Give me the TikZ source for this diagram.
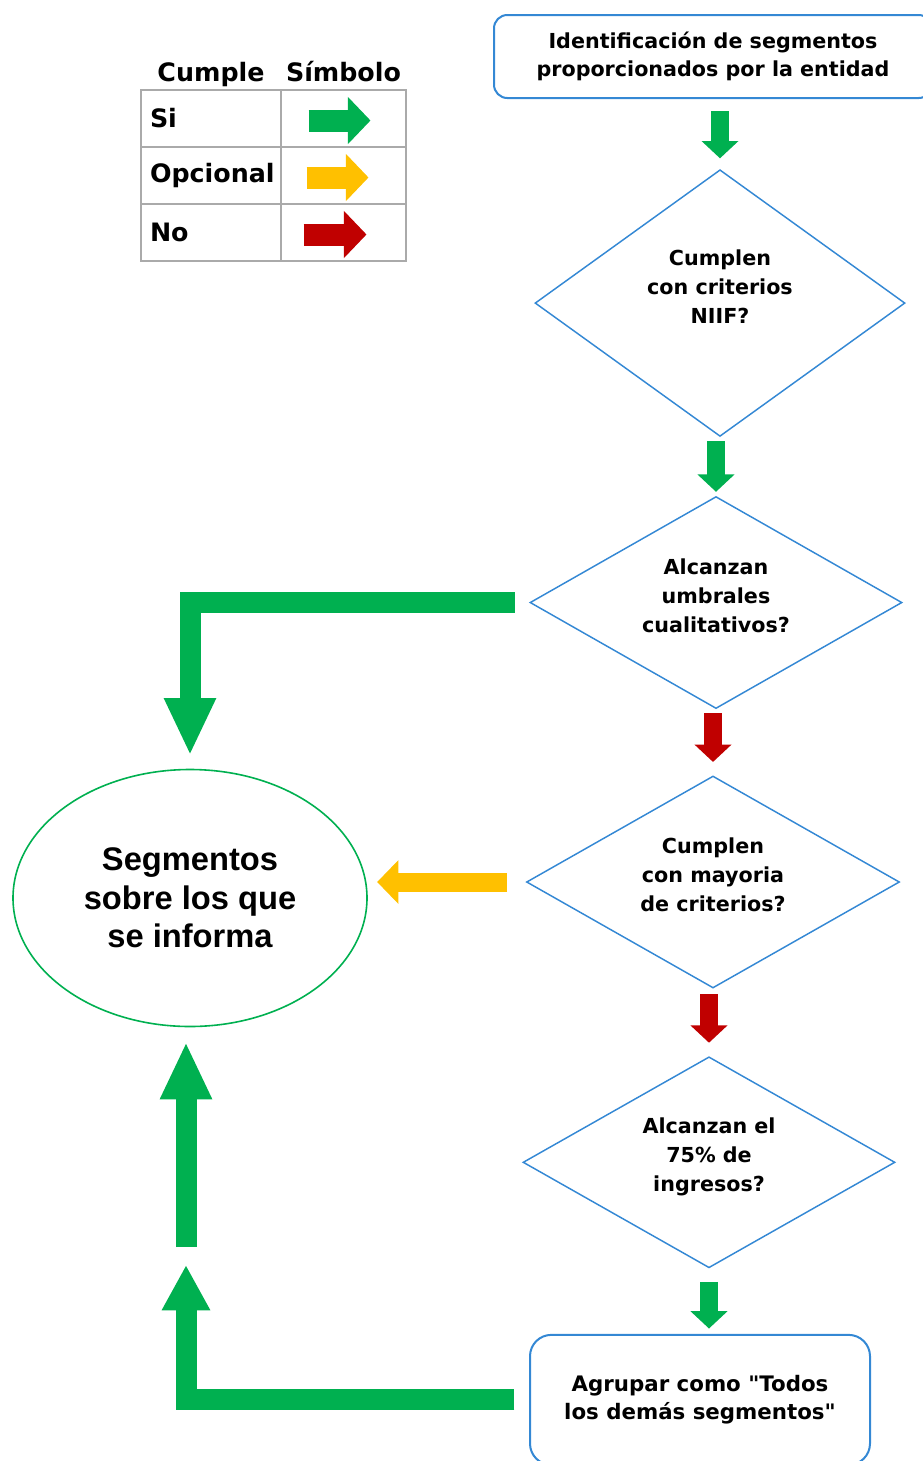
\documentclass[tikz,border=0pt]{standalone}
\usepackage{fontspec}
\setmainfont{Liberation Sans}
\newfontfamily\tahomafont{DejaVu Sans}
\usetikzlibrary{arrows.meta, positioning, shapes.geometric}

\definecolor{siverde}{RGB}{0,176,80}
\definecolor{opamarillo}{RGB}{255,192,0}
\definecolor{norojo}{RGB}{192,0,0}
\definecolor{bordeazul}{RGB}{52,136,212}
\definecolor{rejilla}{RGB}{170,170,170}

\begin{document}
\begin{tikzpicture}[
			x=0.75pt, y=-0.75pt,
			box/.style={
				draw=bordeazul,
				line width=1.5pt,
				rectangle,
				rounded corners=10pt,
				align=center,
				font=\tahomafont\bfseries\fontsize{15.5}{21}\selectfont
			},
			decision/.style={
				draw=bordeazul,
				line width=1.1pt,
				diamond,
				aspect=1.75,
				inner sep=0pt,
				align=center,
				font=\tahomafont\bfseries\fontsize{15.5}{21.75}\selectfont
			},
			outcome/.style={
				draw=siverde,
				line width=1.2pt,
				ellipse,
				minimum width=265.5pt,
				minimum height=192.75pt,
				align=center,
				font=\bfseries\fontsize{24.5}{29}\selectfont
			},
			cell/.style={
				draw=rejilla,
				line width=1.5pt,
				outer sep=0pt,
				minimum height=42.75pt,
				font=\tahomafont\bfseries\fontsize{19}{23}\selectfont
			},
			labelcell/.style={cell, minimum width=105pt, text width=91.5pt, inner xsep=6.75pt, align=left},
			symbolcell/.style={cell, minimum width=93.75pt},
			header/.style={inner ysep=0pt, text depth=6pt, font=\tahomafont\bfseries\fontsize{19}{23}\selectfont},
			smallarrow/.style={line width=14pt, -{Triangle[width=27pt,length=13pt]}},
			legendarrow/.style={line width=16.5pt, -{Triangle[width=34.5pt,length=17pt]}},
			goarrow/.style={siverde, line width=15.75pt, line join=miter, -{Triangle[width=36pt,length=43pt]}},
			optarrow/.style={opamarillo, line width=14.25pt, -{Triangle[width=32pt,length=16pt]}}
			]
			
			\useasboundingbox (0,0) rectangle (923,1461);
			
			% leyenda
			\node[labelcell] (si) at (211,118.5) {Si};
			\node[symbolcell, right=0pt of si] (simsi) {};
			\node[labelcell, below=0pt of si] (opc) {Opcional};
			\node[symbolcell, right=0pt of opc] (simopc) {};
			\node[labelcell, below=0pt of opc] (no) {No};
			\node[symbolcell, right=0pt of no] (simno) {};
			\node[header, above=0pt of si] (hcumple) {Cumple};
			\node[header, above=0pt of simsi] (hsimbolo) {Símbolo};
			
			\draw[legendarrow, siverde] ([shift={(-35,2)}]simsi.center) -- ([shift={(27,2)}]simsi.center);
			\draw[legendarrow, opamarillo] ([shift={(-37,2)}]simopc.center) -- ([shift={(25,2)}]simopc.center);
			\draw[legendarrow, norojo] ([shift={(-40,2)}]simno.center) -- ([shift={(23,2)}]simno.center);
			
			% flujo
			\node[box, minimum width=328.5pt, minimum height=62.25pt] (ident) at (713,56.5) {Identificación de segmentos\\proporcionados por la entidad};
			\node[decision, minimum width=277.5pt, minimum height=200pt, text depth=25pt, below=52.5pt of ident, xshift=5.25pt] (niif) {Cumplen\\con criterios\\NIIF?};
			\node[decision, minimum width=279pt, minimum height=159pt, text depth=11pt, below=44pt of niif, xshift=-3pt] (umbral) {Alcanzan\\umbrales\\cualitativos?};
			\node[decision, minimum width=279.75pt, minimum height=159pt, text depth=11pt, below=49.5pt of umbral, xshift=-2.25pt] (mayoria) {Cumplen\\con mayoria\\de criterios?};
			\node[decision, minimum width=279pt, minimum height=158.25pt, text depth=11pt, below=50.5pt of mayoria, xshift=-3pt] (ingresos) {Alcanzan el\\75\% de\\ingresos?};
			\node[box, rounded corners=16pt, minimum width=255pt, minimum height=97.5pt, below=49pt of ingresos, xshift=-6.75pt, font=\tahomafont\bfseries\fontsize{16}{21}\selectfont] (agrupar) {Agrupar como "Todos\\los demás segmentos"};
			\node[outcome] (informa) at (190,898) {Segmentos\\sobre los que\\se informa};
			
			\coordinate (retorno) at (186,1265);
			\coordinate (arranque) at (186,1247);
			
			\draw[smallarrow, siverde, shorten <=9pt, shorten >=8pt] (niif.north |- ident.south) -- (niif.north);
			\draw[smallarrow, siverde, shorten <=3pt, shorten >=3pt] (umbral.north |- niif.south) -- (umbral.north);
			\draw[smallarrow, norojo, shorten <=3pt, shorten >=10pt] (mayoria.north |- umbral.south) -- (mayoria.north);
			\draw[smallarrow, norojo, shorten <=4pt, shorten >=10pt] (ingresos.north |- mayoria.south) -- (ingresos.north);
			\draw[smallarrow, siverde, shorten <=10pt, shorten >=4pt] (ingresos.south) -- (ingresos.south |- agrupar.north);
			
			\draw[goarrow, shorten >=10pt] ([xshift=-11pt]umbral.west) -| (informa.north);
			\draw[optarrow, shorten >=7pt] ([xshift=-14pt]mayoria.west) -- (mayoria.west -| informa.east);
			\draw[goarrow, -{Triangle[width=34pt,length=34pt]}] ([xshift=-11pt]agrupar.west) -| (retorno);
			\draw[goarrow, shorten >=11pt] (arranque) -- (arranque |- informa.south);
			
		\end{tikzpicture}
\end{document}
